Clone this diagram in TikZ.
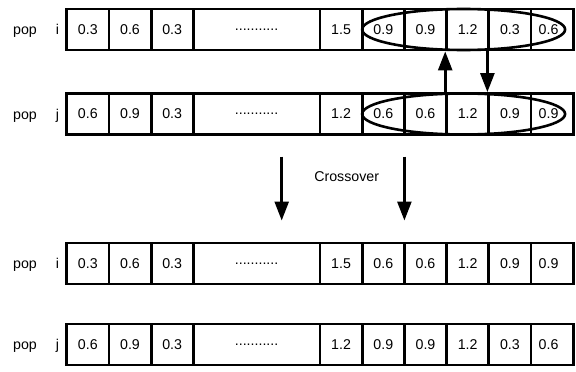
\documentclass[tikz,border=0pt]{standalone}
\usepackage{fontspec}
\setmainfont{Liberation Sans}
\usetikzlibrary{arrows.meta,shapes.geometric}
\begin{document}
\begin{tikzpicture}[x=1pt,y=-1pt,
  txt/.style={font=\fontsize{14.2}{17}\selectfont},
  cell/.style={txt, draw, line width=2.8pt, minimum width=42.2pt,
    minimum height=41pt, inner sep=0pt},
  widecell/.style={cell, minimum width=126.6pt},
  lbl/.style={txt, inner sep=0pt, anchor=base},
  ring/.style={draw, ellipse, line width=2.6pt, inner sep=0pt,
    minimum width=203pt, minimum height=41pt},
  flow/.style={line width=2.6pt, -{Triangle[width=14pt,length=19pt]}}
]
\useasboundingbox (0,0) rectangle (576,372);

% one chromosome row: name, centre y, index letter, three head genes, six tail genes
% (the last gene sits a little left of its cell centre)
\newcommand\chromrow[5]{%
  \node[lbl] (#1-pop) at (25,#2+5) {pop};
  \node[lbl] (#1-idx) at (57.4,#2+5) {#3};
  \foreach \v [count=\k] in {#4}
    \node[cell] (#1-a\k) at ({66.7+42.2*(\k-0.5)},#2) {\v};
  \node[widecell] (#1-dots) at (256.6,#2) {...........};
  \foreach \v [count=\k] in {#5}
    \node[cell] (#1-b\k) at ({320+42.2*(\k-0.5)},#2)
      {\ifnum\k=6 \hspace*{-7pt}\fi\v};
}

\chromrow{r1}{29.5}{i}{0.3,0.6,0.3}{1.5,0.9,0.9,1.2,0.3,0.6}
\chromrow{r2}{114}{j}{0.6,0.9,0.3}{1.2,0.6,0.6,1.2,0.9,0.9}
\chromrow{r3}{263.5}{i}{0.3,0.6,0.3}{1.5,0.6,0.6,1.2,0.9,0.9}
\chromrow{r4}{344.5}{j}{0.6,0.9,0.3}{1.2,0.9,0.9,1.2,0.3,0.6}

% exchanged segments
\node[ring] (e1) at (463.6,29.5) {};
\node[ring] (e2) at (463.6,114) {};

% gene exchange between the two parents
\draw[flow] (r2-b4.north west) -- (r1-b4.south west);
\draw[flow] (r1-b5.north west |- r1-b5.south) -- (r2-b5.north west);

% crossover step
\node[txt] (cx) at (346.7,177) {Crossover};
\coordinate (c1s) at (281.7,156.5);
\coordinate (c1e) at (281.7,220.5);
\coordinate (c2s) at (404.4,156.5);
\coordinate (c2e) at (404.4,220.5);
\draw[flow] (c1s) -- (c1e);
\draw[flow] (c2s) -- (c2e);
\end{tikzpicture}
\end{document}
